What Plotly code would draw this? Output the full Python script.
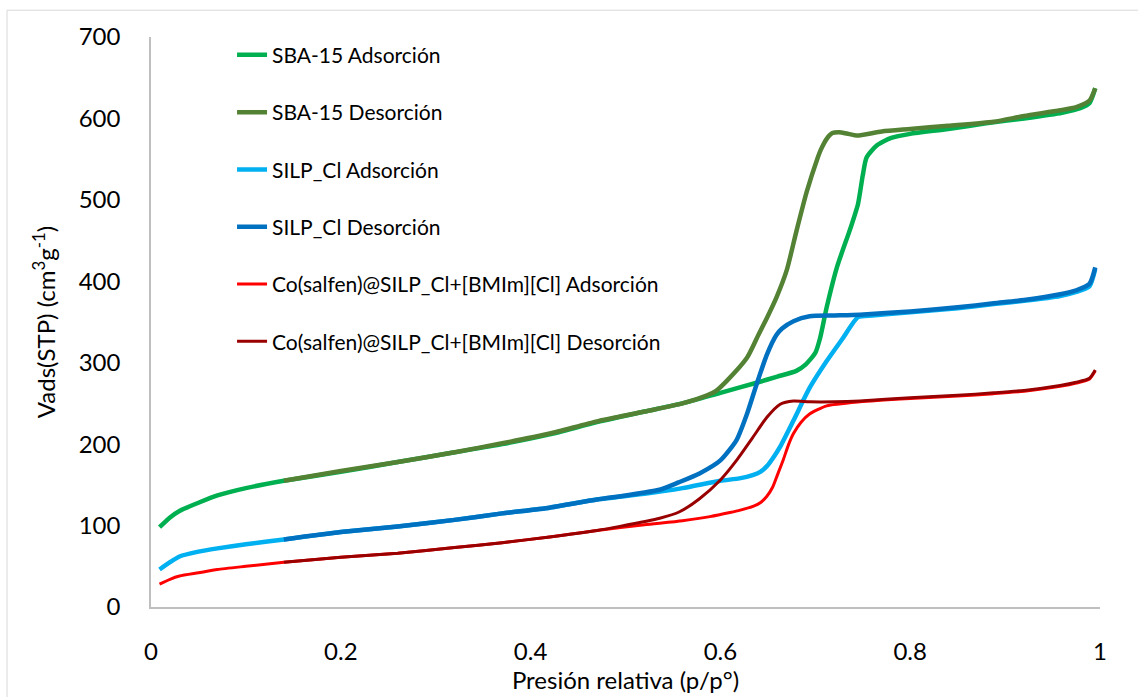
import plotly.graph_objects as go

# ---- data ----
sba_ads_x = [0.009, 0.02, 0.03, 0.05, 0.07, 0.10, 0.14, 0.20, 0.26, 0.32, 0.37, 0.42, 0.47, 0.52, 0.56, 0.60,
             0.64, 0.66, 0.68, 0.69, 0.70, 0.705, 0.712, 0.723, 0.737, 0.745, 0.750, 0.754, 0.765, 0.78, 0.80,
             0.84, 0.88, 0.92, 0.96, 0.98, 0.989, 0.995]
sba_ads_y = [98, 110, 118, 128, 137, 146, 155, 166, 178, 190, 200, 212, 227, 240, 250, 263,
             276, 283, 290, 298, 312, 330, 368, 418, 465, 495, 530, 552, 567, 576, 581,
             587, 594, 600, 607, 613, 619, 637]

sba_des_x = [0.995, 0.989, 0.975, 0.958, 0.92, 0.888, 0.84, 0.80, 0.77, 0.744, 0.735, 0.725, 0.718, 0.712,
             0.706, 0.702, 0.691, 0.680, 0.670, 0.659, 0.649, 0.640, 0.628, 0.607, 0.595, 0.586, 0.56, 0.52,
             0.47, 0.42, 0.37, 0.32, 0.26, 0.20, 0.14]
sba_des_y = [637, 622, 614, 610, 603, 596, 591, 587, 584, 579, 581, 583, 582, 575,
             562, 550, 510, 461, 414, 380, 355, 334, 306, 278, 265, 260, 250, 240,
             228, 213, 201, 190, 178, 167, 155]

silp_ads_x = [0.009, 0.02, 0.03, 0.05, 0.07, 0.10, 0.14, 0.20, 0.26, 0.32, 0.37, 0.42, 0.47, 0.52, 0.56, 0.60,
              0.62, 0.634, 0.642, 0.649, 0.656, 0.663, 0.677, 0.694, 0.712, 0.729, 0.745, 0.76, 0.80, 0.85,
              0.888, 0.92, 0.958, 0.975, 0.989, 0.995]
silp_ads_y = [46, 55, 62, 68, 72, 77, 83, 92, 99, 107, 115, 122, 132, 139, 146, 155,
              158, 162, 166, 173, 184, 197, 229, 269, 302, 330, 356, 358, 362, 367,
              372, 376, 382, 387, 394, 415]

silp_des_x = [0.995, 0.989, 0.975, 0.958, 0.92, 0.888, 0.85, 0.80, 0.747, 0.72, 0.694, 0.677, 0.665, 0.659,
              0.649, 0.638, 0.628, 0.617, 0.600, 0.578, 0.556, 0.536, 0.50, 0.47, 0.42, 0.37, 0.32, 0.26,
              0.20, 0.14]
silp_des_y = [417, 397, 389, 384, 377, 373, 368, 363, 359, 358, 357, 351, 342, 334,
              310, 273, 237, 205, 180, 164, 153, 144, 137, 132, 122, 115, 107, 99,
              92, 83]

co_ads_x = [0.009, 0.02, 0.03, 0.05, 0.07, 0.10, 0.14, 0.20, 0.26, 0.32, 0.37, 0.42, 0.47, 0.52, 0.56, 0.589,
            0.61, 0.621, 0.635, 0.642, 0.649, 0.655, 0.66, 0.666, 0.672, 0.677, 0.685, 0.694, 0.712, 0.747,
            0.80, 0.85, 0.888, 0.92, 0.958, 0.975, 0.989, 0.995]
co_ads_y = [28, 34, 38, 42, 46, 50, 55, 61, 66, 73, 79, 86, 94, 101, 106, 111,
            116, 119, 124, 128, 136, 147, 162, 180, 200, 213, 227, 237, 247, 252,
            256, 259, 262, 265, 271, 275, 280, 290]

co_des_x = [0.995, 0.989, 0.975, 0.958, 0.92, 0.888, 0.85, 0.80, 0.747, 0.72, 0.694, 0.677, 0.663, 0.649,
            0.634, 0.617, 0.600, 0.578, 0.557, 0.536, 0.494, 0.47, 0.42, 0.37, 0.32, 0.26, 0.20, 0.14]
co_des_y = [291, 281, 276, 272, 266, 263, 260, 257, 253, 252, 252, 253, 249, 233,
            208, 180, 156, 133, 117, 109, 99, 94, 86, 79, 73, 66, 61, 55]

x_ticks = [0, 0.2, 0.4, 0.6, 0.8, 1]
x_tick_labels = ["0", "0.2", "0.4", "0.6", "0.8", "1"]
y_ticks = [0, 100, 200, 300, 400, 500, 600, 700]

series = [
    ("SBA-15 Adsorción", sba_ads_x, sba_ads_y, "#00B050", 4.5),
    ("SBA-15 Desorción", sba_des_x, sba_des_y, "#548235", 4.5),
    ("SILP_Cl Adsorción", silp_ads_x, silp_ads_y, "#00B0F0", 4.5),
    ("SILP_Cl Desorción", silp_des_x, silp_des_y, "#0070C0", 4.5),
    ("Co(salfen)@SILP_Cl+[BMIm][Cl] Adsorción", co_ads_x, co_ads_y, "#FF0000", 3),
    ("Co(salfen)@SILP_Cl+[BMIm][Cl] Desorción", co_des_x, co_des_y, "#990000", 3),
]

FONT = "Lato, Carlito, Calibri, sans-serif"

fig = go.Figure()
for i, (name, xs, ys, color, w) in enumerate(series):
    fig.add_trace(go.Scatter(
        x=xs, y=ys, name=name, mode="lines",
        line=dict(color=color, width=w, shape="spline", smoothing=0.6),
        legendgroup="g%d" % i,
    ))

fig.update_layout(
    width=1138, height=697,
    margin=dict(l=151, r=38, t=37, b=86),
    paper_bgcolor="white", plot_bgcolor="white",
    font=dict(family=FONT, color="#000000"),
    showlegend=True,
    legend=dict(
        x=0.0854, y=1.004, xanchor="left", yanchor="top",
        bgcolor="rgba(0,0,0,0)", borderwidth=0,
        font=dict(family=FONT, size=21, color="#000000"),
        tracegroupgap=27,
    ),
    xaxis=dict(
        range=[0, 1], tickvals=x_ticks, ticktext=x_tick_labels,
        showgrid=False, zeroline=False,
        showline=True, linecolor="#BFBFBF", linewidth=1.5,
        ticks="outside", ticklen=22, tickcolor="rgba(0,0,0,0)",
        tickfont=dict(family=FONT, size=24, color="#000000"),
        title=dict(text="Presión relativa (p/p°)", font=dict(family=FONT, size=24, color="#000000"), standoff=4),
    ),
    yaxis=dict(
        range=[0, 700], tickvals=y_ticks,
        showgrid=False, zeroline=False,
        showline=True, linecolor="#BFBFBF", linewidth=1.5,
        ticks="outside", ticklen=24, tickcolor="rgba(0,0,0,0)",
        tickfont=dict(family=FONT, size=24, color="#000000"),
        title=dict(text="Vads(STP) (cm<sup>3</sup>g<sup>-1</sup>)", font=dict(family=FONT, size=24, color="#000000"), standoff=16),
    ),
    shapes=[dict(type="rect", xref="paper", yref="paper",
                 x0=-0.1517, x1=1.2, y0=-0.3, y1=1.047,
                 line=dict(color="#D9D9D9", width=1), layer="below")],
)

fig.write_html("out.html")
